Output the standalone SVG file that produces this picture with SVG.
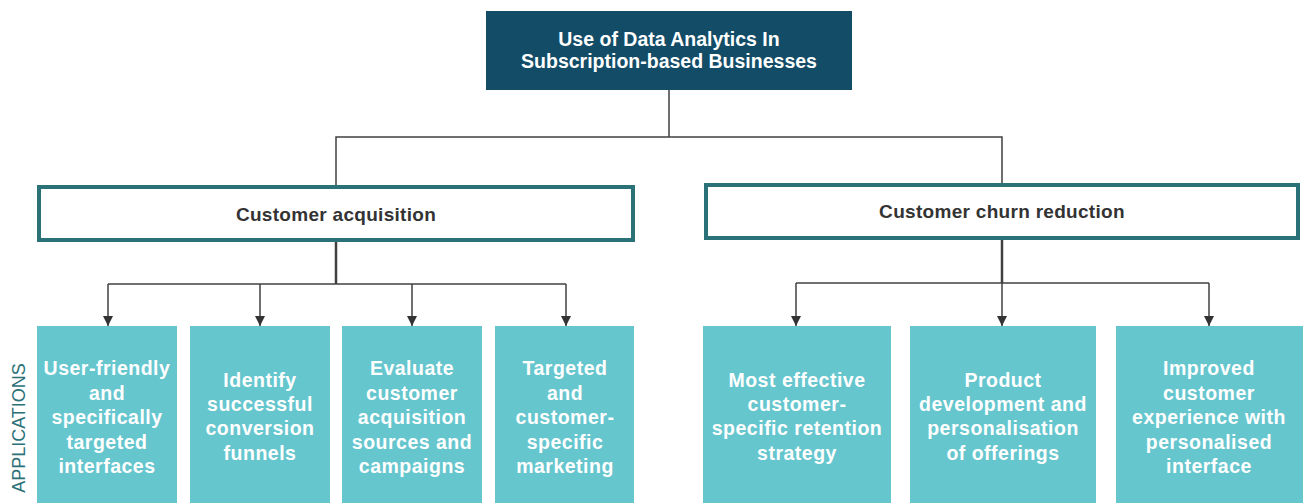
<svg xmlns="http://www.w3.org/2000/svg" width="1303" height="503" viewBox="0 0 1303 503">
  <style>
    .bg { fill: #ffffff; }
    .root { fill: #124c67; }
    .root-text { font-family: "Liberation Sans", Arial, sans-serif; font-weight: bold; font-size: 19.5px; fill: #ffffff; text-anchor: middle; }
    .cat { fill: #ffffff; stroke: #2b7178; stroke-width: 4; }
    .cat-text { font-family: "Liberation Sans", Arial, sans-serif; font-weight: bold; font-size: 19px; fill: #333333; text-anchor: middle; letter-spacing: 0.3px; }
    .leaf { fill: #66c6ce; }
    .leaf-text { font-family: "Liberation Sans", Arial, sans-serif; font-weight: bold; font-size: 19.5px; fill: #ffffff; text-anchor: middle; letter-spacing: 0.5px; }
    .side { font-family: "Liberation Sans", Arial, sans-serif; font-size: 18px; fill: #2b7178; text-anchor: middle; }
    .link { fill: none; stroke: #404040; stroke-width: 1.5; }
    .trunk { fill: none; stroke: #404040; stroke-width: 2.5; }
  </style>
  <defs>
    <marker id="arrow" viewBox="0 0 10 10" refX="10" refY="5" markerWidth="10" markerHeight="10" markerUnits="userSpaceOnUse" orient="auto">
      <path d="M0,0 L10,5 L0,10 Z" fill="#333333"/>
    </marker>
  </defs>

  <rect class="bg" x="0" y="0" width="1303" height="503"/>

  <!-- connectors -->
  <g id="connectors">
    <path class="link" d="M669,90 V137 M336,186 V137 H1002 V184"/>
    <path class="trunk" d="M336,241 V284"/>
    <path class="link" d="M108,284 H566"/>
    <path class="link" marker-end="url(#arrow)" d="M108,284 V326"/>
    <path class="link" marker-end="url(#arrow)" d="M260,284 V326"/>
    <path class="link" marker-end="url(#arrow)" d="M412,284 V326"/>
    <path class="link" marker-end="url(#arrow)" d="M566,284 V326"/>
    <path class="trunk" d="M1002,239 V283"/>
    <path class="link" d="M796,283 H1209"/>
    <path class="link" marker-end="url(#arrow)" d="M796,283 V326"/>
    <path class="link" marker-end="url(#arrow)" d="M1002,283 V326"/>
    <path class="link" marker-end="url(#arrow)" d="M1209,283 V326"/>
  </g>

  <!-- root -->
  <g id="root">
    <rect class="root" x="486" y="11" width="366" height="79"/>
    <text class="root-text" x="669" y="46">Use of Data Analytics In</text>
    <text class="root-text" x="669" y="68">Subscription-based Businesses</text>
  </g>

  <!-- categories -->
  <g id="customer-acquisition">
    <rect class="cat" x="39" y="187" width="594" height="53"/>
    <text class="cat-text" x="336" y="221">Customer acquisition</text>
  </g>
  <g id="customer-churn-reduction">
    <rect class="cat" x="706" y="185" width="592" height="53"/>
    <text class="cat-text" x="1002" y="218">Customer churn reduction</text>
  </g>

  <!-- side label -->
  <text class="side" transform="translate(25,428) rotate(-90)">APPLICATIONS</text>

  <!-- applications: acquisition -->
  <g id="user-friendly">
    <rect class="leaf" x="37" y="326" width="140" height="177"/>
    <text class="leaf-text" x="107" y="375">User-friendly</text>
    <text class="leaf-text" x="107" y="400">and</text>
    <text class="leaf-text" x="107" y="424">specifically</text>
    <text class="leaf-text" x="107" y="449">targeted</text>
    <text class="leaf-text" x="107" y="473">interfaces</text>
  </g>
  <g id="conversion-funnels">
    <rect class="leaf" x="190" y="326" width="140" height="177"/>
    <text class="leaf-text" x="260" y="387">Identify</text>
    <text class="leaf-text" x="260" y="411">successful</text>
    <text class="leaf-text" x="260" y="435">conversion</text>
    <text class="leaf-text" x="260" y="460">funnels</text>
  </g>
  <g id="acquisition-sources">
    <rect class="leaf" x="342" y="326" width="140" height="177"/>
    <text class="leaf-text" x="412" y="375">Evaluate</text>
    <text class="leaf-text" x="412" y="400">customer</text>
    <text class="leaf-text" x="412" y="424">acquisition</text>
    <text class="leaf-text" x="412" y="449">sources and</text>
    <text class="leaf-text" x="412" y="473">campaigns</text>
  </g>
  <g id="targeted-marketing">
    <rect class="leaf" x="495" y="326" width="139" height="177"/>
    <text class="leaf-text" x="565" y="375">Targeted</text>
    <text class="leaf-text" x="565" y="400">and</text>
    <text class="leaf-text" x="565" y="424">customer-</text>
    <text class="leaf-text" x="565" y="449">specific</text>
    <text class="leaf-text" x="565" y="473">marketing</text>
  </g>

  <!-- applications: churn reduction -->
  <g id="retention-strategy">
    <rect class="leaf" x="703" y="326" width="188" height="177"/>
    <text class="leaf-text" x="797" y="387">Most effective</text>
    <text class="leaf-text" x="797" y="411">customer-</text>
    <text class="leaf-text" x="797" y="435">specific retention</text>
    <text class="leaf-text" x="797" y="460">strategy</text>
  </g>
  <g id="product-development">
    <rect class="leaf" x="910" y="326" width="186" height="177"/>
    <text class="leaf-text" x="1003" y="387">Product</text>
    <text class="leaf-text" x="1003" y="411">development and</text>
    <text class="leaf-text" x="1003" y="435">personalisation</text>
    <text class="leaf-text" x="1003" y="460">of offerings</text>
  </g>
  <g id="customer-experience">
    <rect class="leaf" x="1116" y="326" width="187" height="177"/>
    <text class="leaf-text" x="1209" y="375">Improved</text>
    <text class="leaf-text" x="1209" y="400">customer</text>
    <text class="leaf-text" x="1209" y="424">experience with</text>
    <text class="leaf-text" x="1209" y="449">personalised</text>
    <text class="leaf-text" x="1209" y="473">interface</text>
  </g>
</svg>
